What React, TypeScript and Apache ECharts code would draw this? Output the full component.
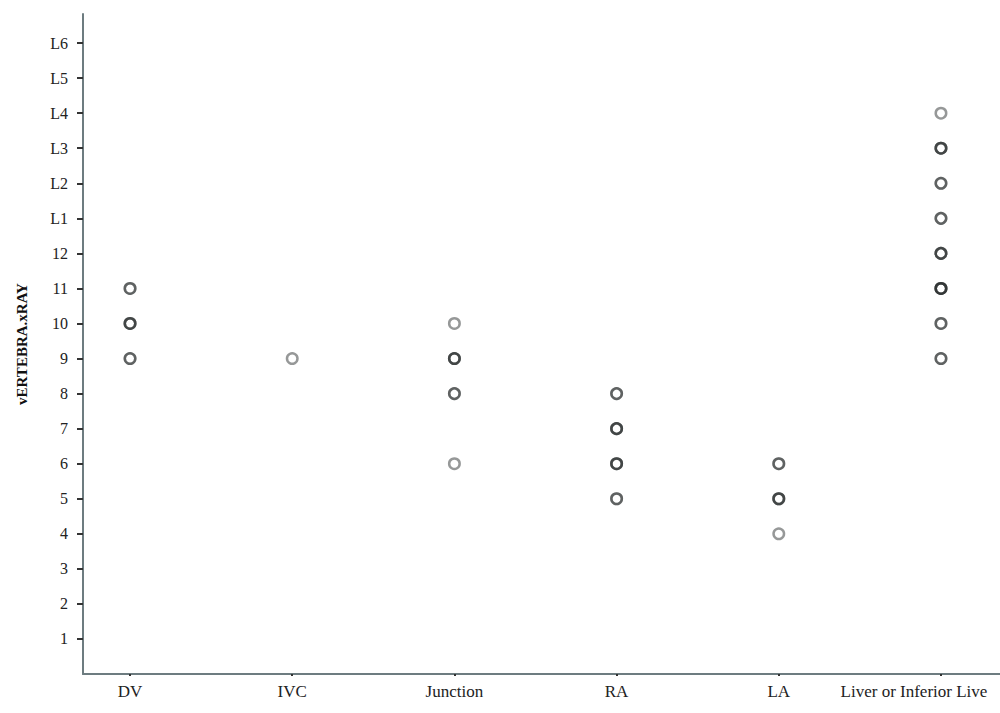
import React, { useEffect, useRef } from "react";
import * as echarts from "echarts";

const categories = ["DV", "IVC", "Junction", "RA", "LA", "Liver or Inferior Live"];
const yTickLabels = ["1", "2", "3", "4", "5", "6", "7", "8", "9", "10", "11", "12", "L1", "L2", "L3", "L4", "L5", "L6"];

// Observations per location (repeated values overlap and appear darker)
const dvValues = ["9", "9", "10", "10", "10", "11", "11"];
const ivcValues = ["9"];
const junctionValues = ["10", "9", "9", "9", "8", "8", "6"];
const raValues = ["8", "8", "7", "7", "7", "6", "6", "6", "5", "5"];
const laValues = ["6", "6", "5", "5", "5", "4"];
const liverValues = ["L4", "L3", "L3", "L3", "L2", "L2", "L1", "L1", "12", "12", "12", "11", "11", "11", "11", "10", "10", "9", "9"];

const groups = [dvValues, ivcValues, junctionValues, raValues, laValues, liverValues];

const FONT = "'Liberation Serif', 'DejaVu Serif', serif";

export default function App() {
  const ref = useRef<HTMLDivElement>(null);
  useEffect(() => {
    if (!ref.current) return;
    const chart = echarts.init(ref.current, null, { renderer: "svg" });
    const data: number[][] = [];
    groups.forEach((vals, i) => {
      vals.forEach((v) => data.push([i, yTickLabels.indexOf(v) + 1]));
    });
    const ticks = yTickLabels.map((_, i) => i + 1);
    chart.setOption({
      animation: false,
      backgroundColor: "#ffffff",
      grid: { left: 83, right: 0, top: 14, bottom: 39, containLabel: false },
      xAxis: {
        type: "value",
        min: -0.29,
        max: 5.364,
        splitLine: { show: false },
        axisLine: { show: true, onZero: false, lineStyle: { color: "#6d7c80", width: 2 } },
        axisTick: {
          show: true,
          customValues: [0, 1, 2, 3, 4, 5],
          length: 2,
          lineStyle: { color: "#333", width: 2 },
        },
        axisLabel: {
          show: true,
          customValues: [0, 1, 2, 3, 4, 5],
          margin: 9,
          fontFamily: FONT,
          fontSize: 17,
          color: "#222",
          formatter: (v: number) => {
            const i = Math.round(v);
            const s = categories[i] ?? "";
            return i === 5 ? "{s|" + s + "}" : s;
          },
          rich: {
            s: { fontFamily: FONT, fontSize: 17, color: "#222", padding: [0, 54, 0, 0] },
          },
        },
      },
      yAxis: {
        type: "value",
        min: 0,
        max: 18.83,
        name: "vERTEBRA.xRAY",
        nameLocation: "middle",
        nameGap: 54,
        nameTextStyle: { fontFamily: FONT, fontSize: 15, fontWeight: "bold", color: "#111" },
        splitLine: { show: false },
        axisLine: { show: true, onZero: false, lineStyle: { color: "#6d7c80", width: 2 } },
        axisTick: {
          show: true,
          customValues: ticks,
          length: 6,
          lineStyle: { color: "#333", width: 2 },
        },
        axisLabel: {
          show: true,
          customValues: ticks,
          margin: 15,
          fontFamily: FONT,
          fontSize: 16,
          color: "#222",
          formatter: (v: number) => yTickLabels[Math.round(v) - 1] ?? "",
        },
      },
      series: [
        {
          type: "scatter",
          data,
          symbol: "circle",
          symbolSize: 10.5,
          itemStyle: {
            color: "rgba(0,0,0,0)",
            borderColor: "rgba(35,40,40,0.6)",
            borderWidth: 2.5,
          },
          emphasis: { disabled: true },
        },
      ],
    });
    return () => chart.dispose();
  }, []);
  return (
    <div
      ref={ref}
      style={{ position: "absolute", left: 0, top: 0, width: 1000, height: 713 }}
    />
  );
}
